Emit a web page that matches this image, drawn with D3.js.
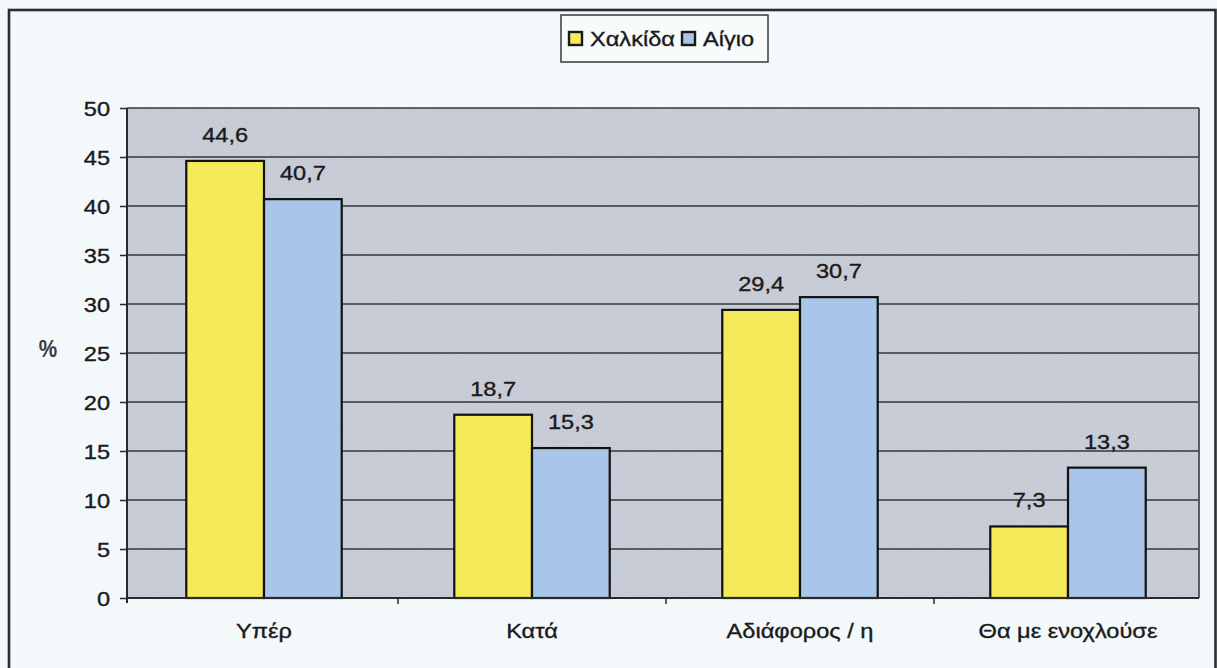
<!DOCTYPE html>
<html>
<head>
<meta charset="utf-8">
<script src="https://cdn.jsdelivr.net/npm/d3@7"></script>
<style>
  body { margin: 0; background: #f3f8fa; }
  text { font-family: "Liberation Sans", Arial, sans-serif; fill: #1a1a1a; stroke: #1a1a1a; stroke-width: 0.35px; }
</style>
</head>
<body>
<svg id="chart" width="1217" height="668"></svg>
<script>
// Attitude towards the project, % of respondents per town
const categories = ["Υπέρ", "Κατά", "Αδιάφορος / η", "Θα με ενοχλούσε"];
const seriesNames = ["Χαλκίδα", "Αίγιο"];
const chalkida = [44.6, 18.7, 29.4, 7.3];
const aigio = [40.7, 15.3, 30.7, 13.3];
const yTicks = [0, 5, 10, 15, 20, 25, 30, 35, 40, 45, 50];
const seriesColors = ["#f5ea5a", "#a9c5ea"];
const yAxisTitle = "%";

const series = [chalkida, aigio];
const rows = categories.map((c, i) => ({ cat: c, vals: series.map(s => s[i]) }));

const svg = d3.select("#chart");
const plot = { left: 127, right: 1199, top: 108, bottom: 598 };
const SX = 1.18;           // horizontal stretch of all lettering
const FS = 20;

const locale = d3.formatLocale({ decimal: ",", thousands: ".", grouping: [3], currency: ["", "€"] });
const fmt = locale.format(".1f");

const x0 = d3.scaleBand().domain(categories).range([130, 1202])
  .paddingInner(0.42).paddingOuter(0.21);
const x1 = d3.scaleBand().domain(seriesNames).range([0, x0.bandwidth()]);
const y = d3.scaleLinear().domain([0, 50]).range([plot.bottom, plot.top]);

// grain for the shaded plot area
const defs = svg.append("defs");
const f = defs.append("filter").attr("id", "grain")
  .attr("x", 0).attr("y", 0).attr("width", 1).attr("height", 1);
f.append("feTurbulence").attr("type", "fractalNoise").attr("baseFrequency", 0.9)
  .attr("numOctaves", 2).attr("seed", 4);
f.append("feColorMatrix").attr("type", "matrix")
  .attr("values", "0 0 0 0 0.45  0 0 0 0 0.47  0 0 0 0 0.52  0.7 0 0 0 -0.3");

// page frame
svg.append("rect").attr("x", 9).attr("y", 10).attr("width", 1206.5).attr("height", 720)
  .attr("fill", "none").attr("stroke", "#2a2d33").attr("stroke-width", 2.6);

// plot background
svg.append("rect")
  .attr("x", plot.left).attr("y", plot.top)
  .attr("width", plot.right - plot.left).attr("height", plot.bottom - plot.top)
  .attr("fill", "#c9cdd7");
svg.append("rect")
  .attr("x", plot.left).attr("y", plot.top)
  .attr("width", plot.right - plot.left).attr("height", plot.bottom - plot.top)
  .attr("fill", "#fff").attr("filter", "url(#grain)");

// gridlines
svg.append("g").selectAll("line").data(yTicks.filter(t => t > 0)).join("line")
  .attr("x1", plot.left).attr("x2", plot.right)
  .attr("y1", d => y(d)).attr("y2", d => y(d))
  .attr("stroke", "#34363b").attr("stroke-width", 1.5);

// plot border (right side)
svg.append("line").attr("x1", plot.right).attr("x2", plot.right)
  .attr("y1", plot.top).attr("y2", plot.bottom)
  .attr("stroke", "#4a4d53").attr("stroke-width", 1.8);

// bars
const groups = svg.append("g").selectAll("g").data(rows).join("g")
  .attr("transform", d => `translate(${x0(d.cat)},0)`);
groups.selectAll("rect").data(d => d.vals.map((v, i) => ({ name: seriesNames[i], v, i })))
  .join("rect")
  .attr("x", d => x1(d.name)).attr("width", x1.bandwidth())
  .attr("y", d => y(d.v)).attr("height", d => y(0) - y(d.v))
  .attr("fill", d => seriesColors[d.i])
  .attr("stroke", "#111").attr("stroke-width", 2.2);

// value labels
groups.selectAll("text.val").data(d => d.vals.map((v, i) => ({ name: seriesNames[i], v })))
  .join("text").attr("class", "val")
  .attr("text-anchor", "middle").attr("font-size", FS)
  .attr("transform", d => `translate(${x1(d.name) + x1.bandwidth() / 2},${y(d.v) - 19}) scale(${SX},1)`)
  .text(d => fmt(d.v));

// y axis
const yAxis = svg.append("g").attr("transform", `translate(${plot.left},0)`)
  .call(d3.axisLeft(y).tickValues(yTicks).tickSize(7).tickPadding(0).tickFormat(d => d));
yAxis.select(".domain").attr("stroke", "#2a2a2a").attr("stroke-width", 2)
  .attr("d", `M0,${plot.top}V${plot.bottom + 5}`);
yAxis.selectAll(".tick line").attr("stroke", "#2a2a2a").attr("stroke-width", 1.5);
yAxis.selectAll(".tick text")
  .attr("font-size", FS).attr("font-family", null).attr("fill", null)
  .attr("dy", "0.36em")
  .attr("x", -17 / SX).attr("transform", `scale(${SX},1)`);

// x axis
svg.append("line").attr("x1", plot.left).attr("x2", plot.right)
  .attr("y1", plot.bottom).attr("y2", plot.bottom)
  .attr("stroke", "#2a2a2a").attr("stroke-width", 2);
svg.append("g").selectAll("line").data(categories.slice(1)).join("line")
  .attr("x1", d => x0(d) - x0.step() * x0.paddingInner() / 2)
  .attr("x2", d => x0(d) - x0.step() * x0.paddingInner() / 2)
  .attr("y1", plot.bottom).attr("y2", plot.bottom + 6)
  .attr("stroke", "#2a2a2a").attr("stroke-width", 1.5);
svg.append("g").selectAll("text").data(categories).join("text")
  .attr("text-anchor", "middle").attr("font-size", FS)
  .attr("transform", d => `translate(${x0(d) + x0.bandwidth() / 2},638) scale(${SX},1)`)
  .text(d => d);

// y title
svg.append("text").attr("text-anchor", "middle")
  .style("font-size", "23px").style("font-weight", "bold")
  .style("fill", "#3a3a3a").style("stroke", "none")
  .attr("transform", `translate(48,357) scale(0.9,1)`)
  .text(yAxisTitle);

// legend
const lg = svg.append("g");
lg.append("rect").attr("x", 561).attr("y", 15).attr("width", 207).attr("height", 47)
  .attr("fill", "#f7fbfc").attr("stroke", "#3a3a3a").attr("stroke-width", 1.5);
const legendX = [569, 682];
const items = lg.selectAll("g").data(seriesNames).join("g")
  .attr("transform", (d, i) => `translate(${legendX[i]},0)`);
items.append("rect").attr("x", 0).attr("y", 32).attr("width", 13).attr("height", 13)
  .attr("fill", (d, i) => seriesColors[i]).attr("stroke", "#1a1a1a").attr("stroke-width", 2.4);
items.append("text").attr("font-size", FS)
  .attr("transform", `translate(21,46) scale(${SX},1)`)
  .text(d => d);
</script>
</body>
</html>
